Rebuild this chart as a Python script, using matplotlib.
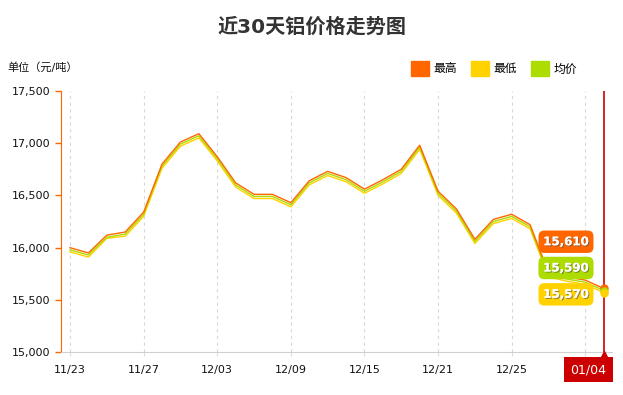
import matplotlib
matplotlib.use('Agg')
import matplotlib.pyplot as plt
import matplotlib.patheffects as pe
from matplotlib.patches import Patch
from matplotlib.ticker import FuncFormatter
import matplotlib.transforms as mtransforms

plt.rcParams['font.family'] = ['DejaVu Sans', 'Noto Sans CJK SC']

# 日期（交易日）
dates = ['11/23', '11/24', '11/25', '11/26', '11/27', '11/30', '12/01', '12/02',
         '12/03', '12/04', '12/07', '12/08', '12/09', '12/10', '12/11', '12/14',
         '12/15', '12/16', '12/17', '12/18', '12/21', '12/22', '12/23', '12/24',
         '12/25', '12/28', '12/29', '12/30', '12/31', '01/04']
high = [16000, 15950, 16120, 16150, 16340, 16800, 17010, 17090, 16870, 16620,
        16510, 16510, 16430, 16640, 16730, 16670, 16560, 16650, 16750, 16980,
        16540, 16370, 16080, 16270, 16320, 16220, 15760, 15720, 15690, 15610]
avg = [15980, 15930, 16100, 16130, 16320, 16780, 16990, 17070, 16850, 16600,
       16490, 16490, 16410, 16620, 16710, 16650, 16540, 16630, 16730, 16960,
       16520, 16350, 16060, 16250, 16300, 16200, 15740, 15700, 15670, 15590]
low = [15960, 15910, 16090, 16110, 16300, 16760, 16970, 17050, 16830, 16580,
       16470, 16470, 16390, 16600, 16690, 16630, 16520, 16610, 16710, 16940,
       16500, 16330, 16040, 16230, 16280, 16180, 15720, 15680, 15650, 15570]
names = ['最高', '最低', '均价']

c_high = '#FF6600'
c_low = '#FFD200'
c_avg = '#ADDC00'
c_red = '#CC0000'

fig = plt.figure(figsize=(6.23, 3.95), dpi=100)
ax = fig.add_axes([61 / 623, 1 - 352.3 / 395, (612 - 61) / 623, (352.3 - 90.8) / 395])

x = list(range(len(dates)))
ax.plot(x, low, color=c_low, lw=1.0)
ax.plot(x, avg, color=c_avg, lw=1.0)
ax.plot(x, high, color=c_high, lw=1.0)

n = len(dates) - 1
ax.axvline(n, color=c_red, lw=1.2, zorder=5)
for v, c in [(high[n], c_high), (avg[n], c_avg), (low[n], c_low)]:
    ax.plot([n], [v], 'o', color=c, ms=5, zorder=6, clip_on=False)

ax.set_xlim(-0.49, n + 0.45)
ax.set_ylim(15000, 17500)
ax.set_yticks([15000, 15500, 16000, 16500, 17000, 17500])
ax.yaxis.set_major_formatter(FuncFormatter(lambda v, p: '{:,.0f}'.format(v)))
ticks = list(range(0, len(dates), 4))
ax.set_xticks(ticks)
ax.set_xticklabels([dates[i] if i < 28 else '' for i in ticks])
ax.tick_params(axis='y', colors=c_high, labelcolor='#111111', labelsize=8, length=4, width=1)
ax.tick_params(axis='x', colors='#dddddd', labelcolor='#111111', labelsize=8, length=3, pad=6)
ax.grid(axis='x', color='#d8d8d8', lw=0.8, ls=(0, (3, 3)))
ax.set_axisbelow(True)
for s in ['top', 'right']:
    ax.spines[s].set_visible(False)
ax.spines['left'].set_color(c_high)
ax.spines['bottom'].set_color('#d0d0d0')

# 数值提示框
boxes = [(high[n], high[n] + 447, c_high), (avg[n], avg[n] + 216, c_avg), (low[n], low[n] - 16, c_low)]
for v, ypos, c in boxes:
    t = ax.text(n - 2.05, ypos, '{:,}'.format(v), ha='center', va='center', color='white',
                fontsize=8.5, fontweight='bold', zorder=7,
                bbox=dict(boxstyle='round,pad=0.4,rounding_size=0.5', fc=c, ec='none'))
    t.set_path_effects([pe.withSimplePatchShadow(offset=(0.8, -0.8), shadow_rgbFace='#555555', alpha=0.6),
                        pe.Normal()])

# 日期标签
blend = mtransforms.blended_transform_factory(ax.transData, ax.transAxes)
off = mtransforms.ScaledTranslation(0, -3 / 100, fig.dpi_scale_trans)
ax.plot([n], [0], marker='^', color=c_red, ms=6, clip_on=False, zorder=6, transform=blend + off)
ax.annotate(dates[n], xy=(n, 0), xycoords=('data', 'axes fraction'),
            xytext=(-11, -12.5), textcoords='offset points', ha='center', va='center',
            color='white', fontsize=9, zorder=7, annotation_clip=False,
            bbox=dict(boxstyle='square,pad=0.5', fc=c_red, ec='none'))

fig.text(0.5, 1 - 27 / 395, '近30天铝价格走势图', ha='center', va='center',
         fontsize=14.5, fontweight='bold', color='#333333')
fig.text(7 / 623, 1 - 67 / 395, '单位（元/吨）', ha='left', va='center', fontsize=8, color='#111111')

handles = [Patch(color=c_high), Patch(color=c_low), Patch(color=c_avg)]
fig.legend(handles, names, loc='center', bbox_to_anchor=(494 / 623, 1 - 68.5 / 395), ncol=3,
           frameon=False, fontsize=8.5, handlelength=1.5, handleheight=1.5,
           handletextpad=0.4, columnspacing=1.2, borderpad=0)

fig.savefig('out.png', dpi=100)
